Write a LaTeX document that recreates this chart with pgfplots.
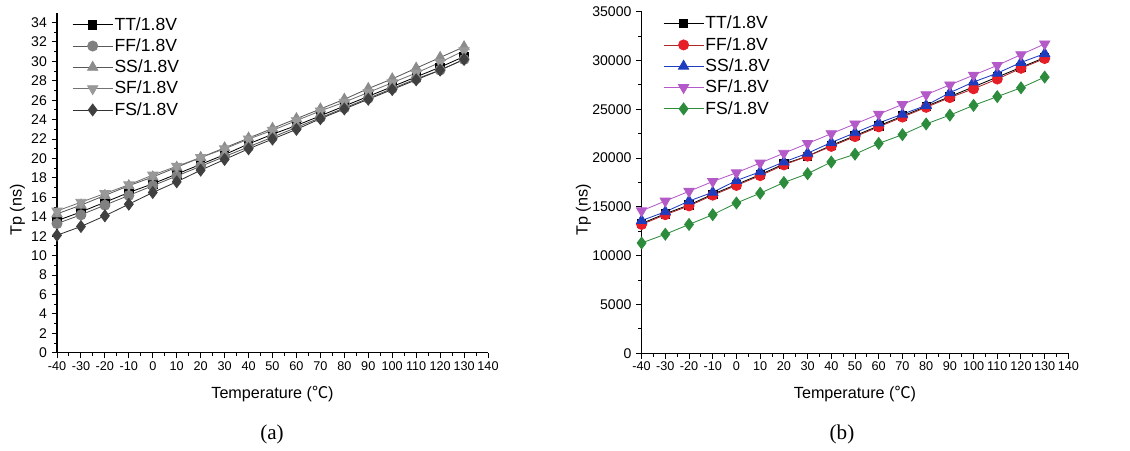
\documentclass[border=0pt]{standalone}
\usepackage{fontspec}
\setmainfont{Liberation Sans}
\newfontfamily\cjk{Noto Sans CJK SC}
\newfontfamily\capfont{Liberation Serif}
\usepackage{pgfplots}
\pgfplotsset{compat=1.18}

\definecolor{ffred}{RGB}{230,30,40}
\definecolor{ffline}{RGB}{170,40,40}
\definecolor{ssblue}{RGB}{30,60,190}
\definecolor{sfviolet}{RGB}{180,90,200}
\definecolor{fsgreen}{RGB}{45,140,60}

\pgfplotsset{
  tpaxis/.style={
    scale only axis,
    axis x line*=bottom, axis y line*=left,
    axis line style={-, line width=0.8pt},
    xmin=-40, xmax=140,
    xtick={-40,-30,...,140}, minor x tick num=1,
    tick align=outside,
    major tick length=0.13cm, minor tick length=0.08cm,
    every tick/.style={black, line width=0.7pt},
    yticklabel style={font=\fontsize{10}{11}\selectfont},
    xticklabel style={font=\fontsize{9}{10}\selectfont, yshift=1pt},
    /pgf/number format/assume math mode=true,
    /pgf/number format/1000 sep={},
    scaled y ticks=false,
    xlabel={Temperature ({\cjk ℃})},
    ylabel={Tp (ns)},
    label style={font=\fontsize{11.5}{13}\selectfont},
    xlabel style={at={(axis description cs:0.5,-0.12)}, anchor=center},
    legend cell align=left,
    legend image code/.code={%
      \draw[mark repeat=2,mark phase=2] plot coordinates {(0cm,0cm) (0.5cm,0cm) (1cm,0cm)};},
    legend style={draw=none, fill=none, anchor=north west,
      font=\fontsize{12.5}{14}\selectfont, row sep=2.6pt,
      nodes={inner sep=1pt}},
    every axis plot/.append style={mark size=3.6pt, line width=0.6pt},
  }
}

\begin{document}
\begin{tikzpicture}
\useasboundingbox (0,0) rectangle (28.25,11.25);

% (a) grey version
\begin{axis}[tpaxis,
  at={(1.425cm,2.43cm)}, anchor=south west,
  width=10.775cm, height=8.5cm,
  ymin=0, ymax=35, ytick={0,2,...,34}, minor y tick num=1,
  ylabel style={at={(axis description cs:-0.092,0.42)}, anchor=center},
  legend style={at={(axis description cs:0.025,1.0)}},
]
\addplot[black, mark=square*, mark size=3pt] coordinates {
  (-40,13.6)(-30,14.5)(-20,15.5)(-10,16.5)(0,17.4)(10,18.4)(20,19.4)(30,20.4)(40,21.5)
  (50,22.5)(60,23.4)(70,24.4)(80,25.4)(90,26.4)(100,27.4)(110,28.4)(120,29.4)(130,30.5)};
\addlegendentry{TT/1.8V}
\addplot[black!65, mark=*, mark options={fill=black!50, draw=black!50}] coordinates {
  (-40,13.3)(-30,14.2)(-20,15.2)(-10,16.2)(0,17.2)(10,18.2)(20,19.2)(30,20.2)(40,21.2)
  (50,22.2)(60,23.2)(70,24.2)(80,25.2)(90,26.2)(100,27.2)(110,28.2)(120,29.1)(130,30.2)};
\addlegendentry{FF/1.8V}
\addplot[black!65, mark=triangle*, mark size=4.2pt, mark options={fill=black!45, draw=black!45}] coordinates {
  (-40,14.3)(-30,15.2)(-20,16.2)(-10,17.2)(0,18.1)(10,19.1)(20,20.1)(30,21.1)(40,22.1)
  (50,23.1)(60,24.1)(70,25.1)(80,26.1)(90,27.2)(100,28.2)(110,29.3)(120,30.4)(130,31.5)};
\addlegendentry{SS/1.8V}
\addplot[black!55, mark=triangle*, mark size=4.2pt, mark options={rotate=180, fill=black!40, draw=black!40}] coordinates {
  (-40,14.6)(-30,15.5)(-20,16.4)(-10,17.3)(0,18.3)(10,19.2)(20,20.1)(30,21.0)(40,22.0)
  (50,22.9)(60,23.9)(70,24.9)(80,25.8)(90,26.8)(100,27.8)(110,28.8)(120,29.9)(130,31.1)};
\addlegendentry{SF/1.8V}
\addplot[black!80, mark=diamond*, mark size=4.2pt, mark options={fill=black!75, draw=black!75}] coordinates {
  (-40,12.1)(-30,13.0)(-20,14.1)(-10,15.3)(0,16.5)(10,17.6)(20,18.8)(30,19.9)(40,21.0)
  (50,22.0)(60,23.0)(70,24.1)(80,25.1)(90,26.1)(100,27.1)(110,28.1)(120,29.1)(130,30.2)};
\addlegendentry{FS/1.8V}
\end{axis}

% (b) colour version
\begin{axis}[tpaxis,
  at={(16.04cm,2.4175cm)}, anchor=south west,
  width=10.67cm, height=8.54cm,
  ymin=0, ymax=35000, ytick={0,5000,...,35000}, minor y tick num=1,
  ylabel style={at={(axis description cs:-0.136,0.42)}, anchor=center},
  legend style={at={(axis description cs:0.04,1.0)}},
]
\addplot[black, mark=square*, mark size=3pt] coordinates {
  (-40,13300)(-30,14300)(-20,15200)(-10,16300)(0,17300)(10,18300)(20,19400)(30,20200)(40,21300)
  (50,22300)(60,23300)(70,24300)(80,25300)(90,26300)(100,27300)(110,28300)(120,29300)(130,30300)};
\addlegendentry{TT/1.8V}
\addplot[ffline, mark=*, mark options={fill=ffred, draw=ffred}] coordinates {
  (-40,13200)(-30,14200)(-20,15100)(-10,16200)(0,17200)(10,18200)(20,19300)(30,20200)(40,21200)
  (50,22200)(60,23200)(70,24200)(80,25200)(90,26200)(100,27100)(110,28100)(120,29200)(130,30200)};
\addlegendentry{FF/1.8V}
\addplot[ssblue, mark=triangle*, mark size=4.2pt] coordinates {
  (-40,13600)(-30,14500)(-20,15600)(-10,16500)(0,17700)(10,18600)(20,19600)(30,20500)(40,21600)
  (50,22600)(60,23600)(70,24500)(80,25400)(90,26700)(100,27800)(110,28700)(120,29800)(130,30700)};
\addlegendentry{SS/1.8V}
\addplot[sfviolet, mark=triangle*, mark size=4.2pt, mark options={rotate=180}] coordinates {
  (-40,14600)(-30,15600)(-20,16600)(-10,17600)(0,18500)(10,19500)(20,20500)(30,21500)(40,22500)
  (50,23500)(60,24500)(70,25500)(80,26500)(90,27500)(100,28500)(110,29500)(120,30600)(130,31700)};
\addlegendentry{SF/1.8V}
\addplot[fsgreen, mark=diamond*, mark size=4.2pt] coordinates {
  (-40,11300)(-30,12200)(-20,13200)(-10,14200)(0,15400)(10,16400)(20,17500)(30,18400)(40,19600)
  (50,20400)(60,21500)(70,22400)(80,23500)(90,24400)(100,25400)(110,26300)(120,27200)(130,28300)};
\addlegendentry{FS/1.8V}
\end{axis}

\node[font=\capfont\fontsize{15}{17}\selectfont] at (6.8,0.4) {(a)};
\node[font=\capfont\fontsize{15}{17}\selectfont] at (21.05,0.4) {(b)};
\end{tikzpicture}
\end{document}
